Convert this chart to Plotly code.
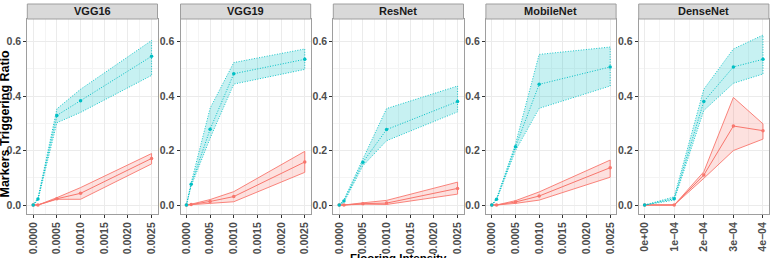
import plotly.graph_objects as go

W, H = 772, 258

models = ["VGG16", "VGG19", "ResNet", "MobileNet", "DenseNet"]

x_vgg = [0, 0.0001, 0.0005, 0.001, 0.0025]
x_dense = [0, 0.0001, 0.0002, 0.0003, 0.0004]

# cyan series (mean, lower, upper) and red series (mean, lower, upper)
vgg16_c = [0, 0.022, 0.329, 0.383, 0.546]
vgg16_c_lo = [0, 0.018, 0.302, 0.340, 0.476]
vgg16_c_hi = [0, 0.026, 0.353, 0.425, 0.604]
vgg16_r = [0, 0.0, 0.023, 0.043, 0.171]
vgg16_r_lo = [0, 0.0, 0.021, 0.021, 0.151]
vgg16_r_hi = [0, 0.0, 0.027, 0.064, 0.189]

vgg19_c = [0, 0.076, 0.278, 0.482, 0.535]
vgg19_c_lo = [0, 0.070, 0.245, 0.444, 0.498]
vgg19_c_hi = [0, 0.082, 0.355, 0.523, 0.573]
vgg19_r = [0, 0.002, 0.013, 0.031, 0.158]
vgg19_r_lo = [0, 0.001, 0.005, 0.012, 0.120]
vgg19_r_hi = [0, 0.003, 0.020, 0.049, 0.197]

resnet_c = [0, 0.015, 0.157, 0.277, 0.380]
resnet_c_lo = [0, 0.010, 0.144, 0.236, 0.342]
resnet_c_hi = [0, 0.020, 0.169, 0.354, 0.437]
resnet_r = [0, 0.0, 0.005, 0.007, 0.061]
resnet_r_lo = [0, 0.0, 0.003, 0.002, 0.040]
resnet_r_hi = [0, 0.0, 0.008, 0.017, 0.084]

mobile_c = [0, 0.021, 0.214, 0.443, 0.507]
mobile_c_lo = [0, 0.018, 0.200, 0.355, 0.437]
mobile_c_hi = [0, 0.024, 0.224, 0.553, 0.580]
mobile_r = [0, 0.0, 0.011, 0.033, 0.137]
mobile_r_lo = [0, 0.0, 0.006, 0.018, 0.102]
mobile_r_hi = [0, 0.0, 0.016, 0.048, 0.165]

dense_c = [0, 0.023, 0.380, 0.507, 0.535]
dense_c_lo = [0, 0.018, 0.347, 0.447, 0.481]
dense_c_hi = [0, 0.030, 0.425, 0.573, 0.624]
dense_r = [0, 0.0, 0.110, 0.290, 0.273]
dense_r_lo = [0, 0.0, 0.098, 0.200, 0.242]
dense_r_hi = [0, 0.0, 0.122, 0.395, 0.298]

vgg_ticks = [0, 0.0005, 0.001, 0.0015, 0.002, 0.0025]
vgg_ticktext = ["0.0000", "0.0005", "0.0010", "0.0015", "0.0020", "0.0025"]
dense_ticks = [0, 0.0001, 0.0002, 0.0003, 0.0004]
dense_ticktext = ["0e+00", "1e\u221204", "2e\u221204", "3e\u221204", "4e\u221204"]
y_ticks = [0, 0.2, 0.4, 0.6]
y_ticktext = ["0.0", "0.2", "0.4", "0.6"]

panel_data = [
    (x_vgg, vgg16_c, vgg16_c_lo, vgg16_c_hi, vgg16_r, vgg16_r_lo, vgg16_r_hi),
    (x_vgg, vgg19_c, vgg19_c_lo, vgg19_c_hi, vgg19_r, vgg19_r_lo, vgg19_r_hi),
    (x_vgg, resnet_c, resnet_c_lo, resnet_c_hi, resnet_r, resnet_r_lo, resnet_r_hi),
    (x_vgg, mobile_c, mobile_c_lo, mobile_c_hi, mobile_r, mobile_r_lo, mobile_r_hi),
    (x_dense, dense_c, dense_c_lo, dense_c_hi, dense_r, dense_r_lo, dense_r_hi),
]

CYAN = "#00BFC4"
RED = "#F8766D"
FONT = "Liberation Sans"
DOT = "1px,1.6px"

panel_left = [27.3, 180.5, 333.3, 485.9, 638.7]
panel_w = 130.2
panel_top, panel_bot = 19.0, 214.0
strip_top = 4.0

fig = go.Figure()
layout = dict(
    width=W, height=H, margin=dict(l=0, r=0, t=0, b=0),
    paper_bgcolor="white", plot_bgcolor="white", showlegend=False,
    shapes=[], annotations=[],
)

for i, (xs, c, clo, chi, r, rlo, rhi) in enumerate(panel_data):
    n = i + 1
    xa = "x" if n == 1 else f"x{n}"
    ya = "y" if n == 1 else f"y{n}"
    for mean, lo, hi, col, fillc, dash in [
        (r, rlo, rhi, RED, "rgba(248,118,109,0.22)", "solid"),
        (c, clo, chi, CYAN, "rgba(0,191,196,0.22)", DOT),
    ]:
        fig.add_trace(go.Scatter(
            x=list(xs) + list(xs)[::-1], y=list(hi) + list(lo)[::-1],
            xaxis=xa, yaxis=ya, mode="lines", fill="toself",
            fillcolor=fillc, line=dict(color=col, width=0.9, dash=dash),
            hoverinfo="skip"))
        fig.add_trace(go.Scatter(
            x=xs, y=mean, xaxis=xa, yaxis=ya, mode="lines+markers",
            line=dict(color=col, width=1.0, dash=dash),
            marker=dict(color=col, size=3.5)))

    x0 = panel_left[i] / W
    x1 = (panel_left[i] + panel_w) / W
    dense = (i == 4)
    xmax = 0.0004 if dense else 0.0025
    pad = 0.05 * xmax
    common = dict(
        showline=True, mirror=True, linecolor="#9E9E9E", linewidth=1,
        ticks="outside", ticklen=3, tickcolor="#333333", tickwidth=1,
        showgrid=True, gridcolor="#EBEBEB", gridwidth=1, zeroline=False,
        tickfont=dict(family=FONT, size=10.5, color="#4D4D4D", weight="bold"),
    )
    layout["xaxis" if n == 1 else f"xaxis{n}"] = dict(
        domain=[x0, x1], anchor=ya, range=[-pad, xmax + pad],
        tickmode="array",
        tickvals=dense_ticks if dense else vgg_ticks,
        ticktext=dense_ticktext if dense else vgg_ticktext,
        tickangle=-90,
        minor=dict(tickmode="linear", tick0=0, dtick=(0.00005 if dense else 0.00025),
                   showgrid=True, gridcolor="#F4F4F4", gridwidth=0.6, ticks=""),
        **common)
    layout["yaxis" if n == 1 else f"yaxis{n}"] = dict(
        domain=[1 - panel_bot / H, 1 - panel_top / H], anchor=xa,
        range=[-0.033, 0.683], tickmode="array", tickvals=y_ticks,
        ticktext=y_ticktext,
        minor=dict(tickmode="linear", tick0=0, dtick=0.1, showgrid=True,
                   gridcolor="#F4F4F4", gridwidth=0.6, ticks=""),
        **common)
    layout["shapes"].append(dict(
        type="rect", xref="paper", yref="paper", x0=x0, x1=x1,
        y0=1 - panel_top / H, y1=1 - strip_top / H,
        fillcolor="#D9D9D9", line=dict(color="#9E9E9E", width=1), layer="above"))
    layout["annotations"].append(dict(
        text=models[i], xref="paper", yref="paper", x=(x0 + x1) / 2,
        y=1 - (panel_top + strip_top) / 2 / H, xanchor="center", yanchor="middle",
        showarrow=False, font=dict(family=FONT, size=11, color="#1A1A1A", weight="bold")))

layout["annotations"].append(dict(
    text="Flooring Intensity", xref="paper", yref="paper",
    x=(panel_left[0] + panel_left[4] + panel_w) / 2 / W, y=1 - 250 / H,
    xanchor="center", yanchor="top", showarrow=False,
    font=dict(family=FONT, size=11.5, color="black", weight="bold")))
layout["annotations"].append(dict(
    text="Markers Triggering Ratio", xref="paper", yref="paper",
    x=4.5 / W, y=1 - 124 / H, textangle=-90,
    xanchor="center", yanchor="middle", showarrow=False,
    font=dict(family=FONT, size=12.5, color="black", weight="bold")))

fig.update_layout(**layout)
fig.write_html("out.html")
